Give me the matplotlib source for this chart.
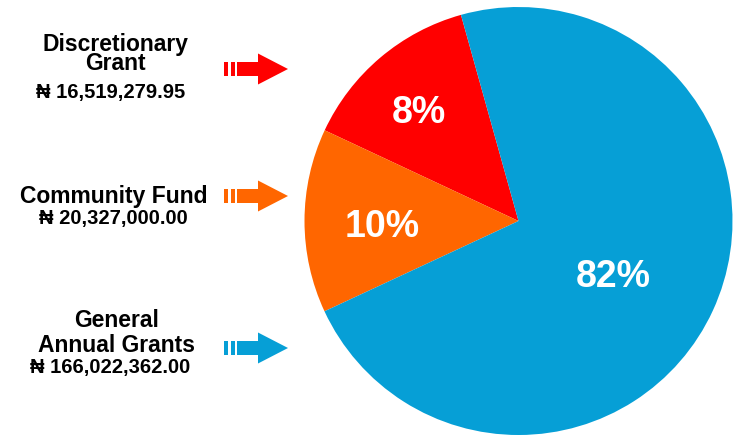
import numpy as np
import matplotlib
matplotlib.use("Agg")
import matplotlib.pyplot as plt
from matplotlib.patches import Polygon, Rectangle

plt.rcParams['font.family'] = ['Liberation Sans', 'DejaVu Sans']

# data
names = ["Discretionary\nGrant", "Community Fund", "General\nAnnual Grants"]
amounts = ["₦ 16,519,279.95", "₦ 20,327,000.00", "₦ 166,022,362.00"]
pct_labels = ["8%", "10%", "82%"]
# wedge shares as drawn in the picture (not proportional to the amounts)
wedge_share = [13.7, 13.9, 72.4]
colors = ["#FF0000", "#FF6600", "#069FD6"]

fig = plt.figure(figsize=(7.44, 4.43), dpi=100)

# pie
ax = fig.add_axes([304.5 / 744, 8 / 443, 428 / 744, 428 / 443])
wedges, _ = ax.pie(wedge_share, colors=colors, startangle=105.6,
                   counterclock=True, radius=1,
                   wedgeprops=dict(linewidth=0))
ax.set_xlim(-1, 1)
ax.set_ylim(-1, 1)
ax.set_aspect("equal")
ax.axis("off")

label_r = [0.687, 0.638, 0.515]
label_shift = [2.6, 2.5, -6]
for w, lab, r, s in zip(wedges, pct_labels, label_r, label_shift):
    mid = np.deg2rad((w.theta1 + w.theta2) / 2 + s)
    ax.text(r * np.cos(mid), r * np.sin(mid), lab, color="white",
            fontsize=27, fontweight="bold", ha="center", va="center")

# left labels + arrows, in pixel coords (y from top)
ov = fig.add_axes([0, 0, 1, 1])
ov.set_xlim(0, 744)
ov.set_ylim(443, 0)
ov.axis("off")

name_pos = [(115.5, 54), (114, 196), (116.5, 333)]
name_spacing = [0.82, 1.2, 1.12]
amount_pos = [(111, 92), (113, 218), (110, 368)]
arrow_y = [69, 196, 348]

for i in range(3):
    x, y = name_pos[i]
    ov.text(x, y, names[i], fontsize=16.5, fontweight="bold", ha="center",
            va="center", multialignment="center",
            linespacing=name_spacing[i], color="black")
    ax_x, ax_y = amount_pos[i]
    ov.text(ax_x, ax_y, amounts[i], fontsize=14.5, fontweight="bold",
            ha="center", va="center", color="black")

    y = arrow_y[i]
    c = colors[i]
    ov.add_patch(Rectangle((224, y - 7), 4, 14, color=c, lw=0))
    ov.add_patch(Rectangle((231, y - 7), 3.5, 14, color=c, lw=0))
    ov.add_patch(Polygon([(237, y - 7), (258, y - 7), (258, y - 15.5),
                          (288, y), (258, y + 15.5), (258, y + 7),
                          (237, y + 7)], closed=True, color=c, lw=0))

fig.savefig("out.png", dpi=100)
